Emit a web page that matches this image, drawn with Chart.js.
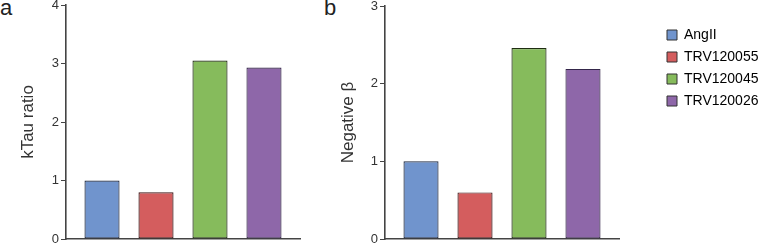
<!DOCTYPE html>
<html>
<head>
<meta charset="utf-8">
<script src="https://cdn.jsdelivr.net/npm/chart.js@4.4.1/dist/chart.umd.min.js"></script>
<style>
  body { margin: 0; width: 759px; height: 245px; overflow: hidden; background: #fff; position: relative; font-family: "Liberation Sans", Arial, sans-serif; }
  .panel { position: absolute; top: 0; height: 245px; }
  .tag { position: absolute; top: -5px; font-size: 22px; color: #222; }
</style>
</head>
<body>
<div class="tag" style="left:0px">a</div>
<div class="tag" style="left:324px">b</div>
<div class="panel" style="left:0px;width:330px"><canvas id="chartA"></canvas></div>
<div class="panel" style="left:330px;width:330px"><canvas id="chartB"></canvas></div>
<div class="panel" style="left:659px;top:20px;width:100px;height:240px"><canvas id="legendBox"></canvas></div>
<script>
// 数据
var categories = ['AngII', 'TRV120055', 'TRV120045', 'TRV120026']
var kTauValues = [1.0, 0.8, 3.05, 2.93]
var negBetaValues = [1.0, 0.6, 2.46, 2.19]
var kTauTicks = [0, 1, 2, 3, 4]
var negBetaTicks = [0, 1, 2, 3]

var fillColors = ['#7094cd', '#d45d5e', '#86bb5c', '#8e67a9']
var edgeColors = ['#1f2a40', '#3a1515', '#1f2d12', '#34264a']

var FONT = '"Liberation Sans", Arial, sans-serif'
var AXIS = '#444'

function points(values) {
    var out = []
    for (let i = 0; i < values.length; i++) {
        out.push({x: i, y: values[i]})
    }
    return out
}

function yScale(title, ticks, width) {
    return {
        type: 'linear',
        position: 'left',
        min: ticks[0],
        max: ticks[ticks.length - 1],
        afterBuildTicks: function (s) { s.ticks = ticks.map(v => ({value: v})) },
        afterFit: function (s) { s.width = width; s.paddingTop = 0; s.paddingBottom = 0 },
        grid: { display: true, drawOnChartArea: false, drawTicks: true, tickLength: 5, color: AXIS, lineWidth: 1 },
        border: { display: true, color: AXIS, width: 1.6 },
        ticks: { padding: 2, color: '#333', font: { family: FONT, size: 13 } },
        title: { display: true, text: title, color: '#333', padding: 0, font: { family: FONT, size: 17 } }
    }
}

var xScale = {
    type: 'linear',
    offset: false,
    min: -0.667,
    max: 3.667,
    grid: { display: false, drawTicks: false, offset: false },
    border: { display: true, color: AXIS, width: 1.6 },
    ticks: { display: false }
}

function barSet(values) {
    return {
        data: points(values),
        backgroundColor: fillColors,
        borderColor: edgeColors,
        borderWidth: 1.2,
        borderSkipped: false,
        barPercentage: 0.65,
        categoryPercentage: 1
    }
}

function barChart(id, values, title, ticks, yWidth, padding) {
    var ctx = document.getElementById(id).getContext('2d')
    new Chart(ctx, {
        type: 'bar',
        data: { datasets: [barSet(values)] },
        options: {
            responsive: true,
            maintainAspectRatio: false,
            animation: false,
            layout: { padding: padding },
            plugins: { legend: { display: false }, tooltip: { enabled: false } },
            scales: { x: xScale, y: yScale(title, ticks, yWidth) }
        }
    })
}

// 图例
function LegendChart() {
    var ctx = document.getElementById('legendBox').getContext('2d')
    new Chart(ctx, {
        type: 'bar',
        data: { labels: categories, datasets: [] },
        options: {
            responsive: true,
            maintainAspectRatio: false,
            animation: false,
            layout: { padding: 0 },
            scales: { x: { display: false }, y: { display: false } },
            plugins: {
                tooltip: { enabled: false },
                legend: {
                    position: 'top',
                    align: 'start',
                    labels: {
                        boxWidth: 10,
                        boxHeight: 10,
                        padding: 8,
                        color: '#222',
                        font: { family: FONT, size: 14 },
                        generateLabels: function () {
                            return categories.map((c, i) => ({
                                text: c,
                                fillStyle: fillColors[i],
                                strokeStyle: '#333',
                                lineWidth: 1,
                                hidden: false,
                                index: i
                            }))
                        }
                    }
                }
            }
        }
    })
}

function initCharts() {
    barChart('chartA', kTauValues, 'kTau ratio', kTauTicks, 48, { left: 18, right: 30, top: 5, bottom: 6 })
    barChart('chartB', negBetaValues, 'Negative β', negBetaTicks, 47, { left: 8, right: 41, top: 6, bottom: 6 })
    LegendChart()
}

document.addEventListener('DOMContentLoaded', initCharts)
</script>
</body>
</html>
